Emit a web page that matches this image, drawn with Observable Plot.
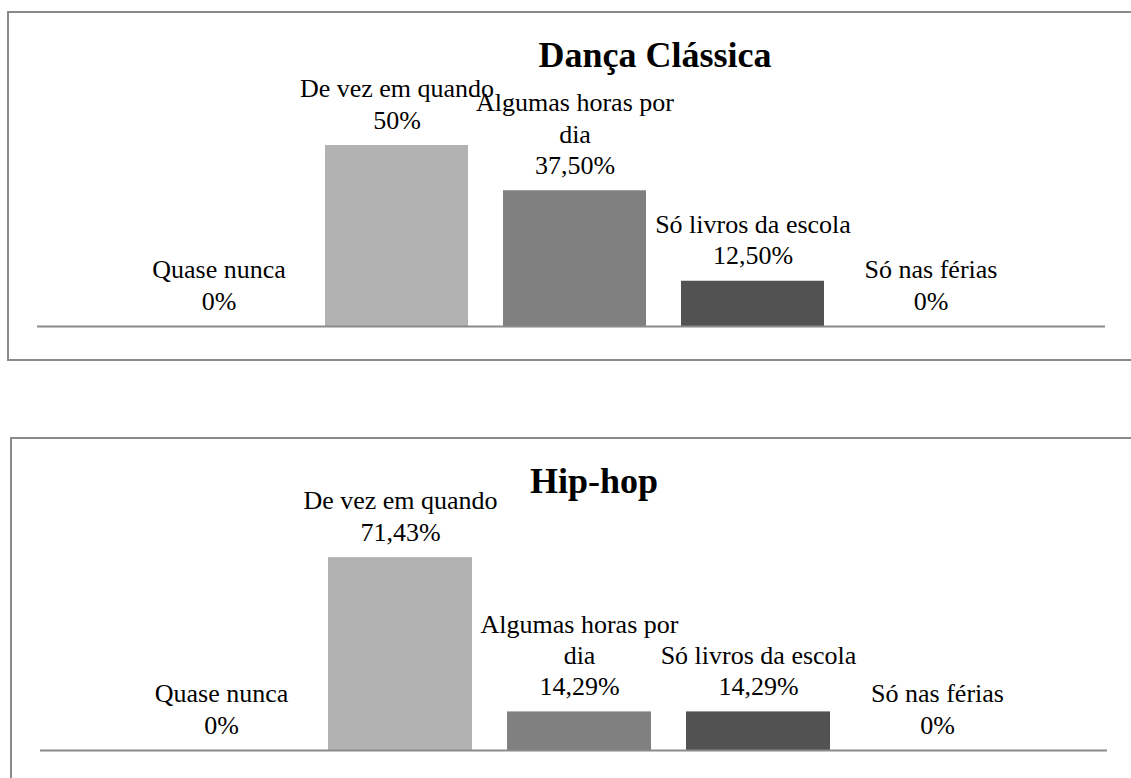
<!DOCTYPE html>
<html>
<head>
<meta charset="utf-8">
<script src="https://cdn.jsdelivr.net/npm/d3@7"></script>
<script src="https://cdn.jsdelivr.net/npm/@observablehq/plot@0.6"></script>
<style>
  html, body { margin: 0; padding: 0; background: #ffffff; overflow: hidden; }
  #page { position: relative; width: 1131px; height: 778px; overflow: hidden; background: #fff; }
  .box { position: absolute; border: 2px solid #8a8a8a; box-sizing: border-box; }
  .title { position: absolute; font-family: "Liberation Serif", "Times New Roman", serif; font-weight: bold;
           font-size: 36px; line-height: 36px; white-space: nowrap; transform: translateX(-50%); color: #000; }
  .chart { position: absolute; left: 0; }
  #page svg, #page svg text, #page svg tspan { font-family: "Liberation Serif", "Times New Roman", serif !important; }
</style>
</head>
<body>
<div id="page">
  <div class="box" style="left:7px; top:11px; width:1140px; height:350px;"></div>
  <div class="box" style="left:10px; top:437px; width:1140px; height:400px;"></div>
  <div id="c1" class="chart" style="top:0px;"></div>
  <div id="c2" class="chart" style="top:400px;"></div>
  <div class="title" style="left:655px; top:37px;">Dança Clássica</div>
  <div class="title" style="left:594px; top:463px;">Hip-hop</div>
</div>
<script>
const categories = ["Quase nunca", "De vez em quando", "Algumas horas por dia", "Só livros da escola", "Só nas férias"];
const categoryLabels = ["Quase nunca", "De vez em quando", "Algumas horas por\ndia", "Só livros da escola", "Só nas férias"];
const barColors = ["#d0d0d0", "#b2b2b2", "#808080", "#525252", "#333333"];

const dancaValues = [0, 50, 37.5, 12.5, 0];
const dancaPctLabels = ["0%", "50%", "37,50%", "12,50%", "0%"];

const hiphopValues = [0, 71.43, 14.29, 14.29, 0];
const hiphopPctLabels = ["0%", "71,43%", "14,29%", "14,29%", "0%"];

const serif = "Liberation Serif, Times New Roman, serif";

function makeChart({values, pcts, height, marginTop, marginBottom, marginLeft, marginRight, xRange, yMax, padInner}) {
  const data = categories.map((c, i) => ({
    category: c,
    value: values[i],
    label: categoryLabels[i] + "\n" + pcts[i]
  }));
  return Plot.plot({
    width: 1131,
    height,
    marginTop, marginBottom, marginLeft, marginRight,
    style: {background: "transparent", overflow: "visible"},
    x: {type: "band", domain: categories, range: xRange, paddingInner: padInner, paddingOuter: padInner / 2, axis: null},
    y: {domain: [0, yMax], axis: null},
    color: {domain: categories, range: barColors},
    marks: [
      Plot.barY(data, {x: "category", y: "value", fill: "category"}),
      Plot.ruleY([0], {stroke: "#8a8a8a", strokeWidth: 2}),
      Plot.text(data, {
        x: "category", y: "value", text: "label",
        lineAnchor: "bottom", lineHeight: 1.2, dy: -17,
        fontSize: 26, fontFamily: serif, fill: "#000"
      })
    ]
  });
}

document.getElementById("c1").append(makeChart({
  values: dancaValues, pcts: dancaPctLabels,
  height: 385, marginTop: 108.8, marginBottom: 59, marginLeft: 37, marginRight: 26,
  xRange: [127.9, 1021.6], yMax: 60, padInner: 0.194
}));

document.getElementById("c2").append(makeChart({
  values: hiphopValues, pcts: hiphopPctLabels,
  height: 378, marginTop: 134, marginBottom: 28, marginLeft: 40, marginRight: 24,
  xRange: [131.5, 1026.5], yMax: 80, padInner: 0.196
}));
</script>
</body>
</html>
